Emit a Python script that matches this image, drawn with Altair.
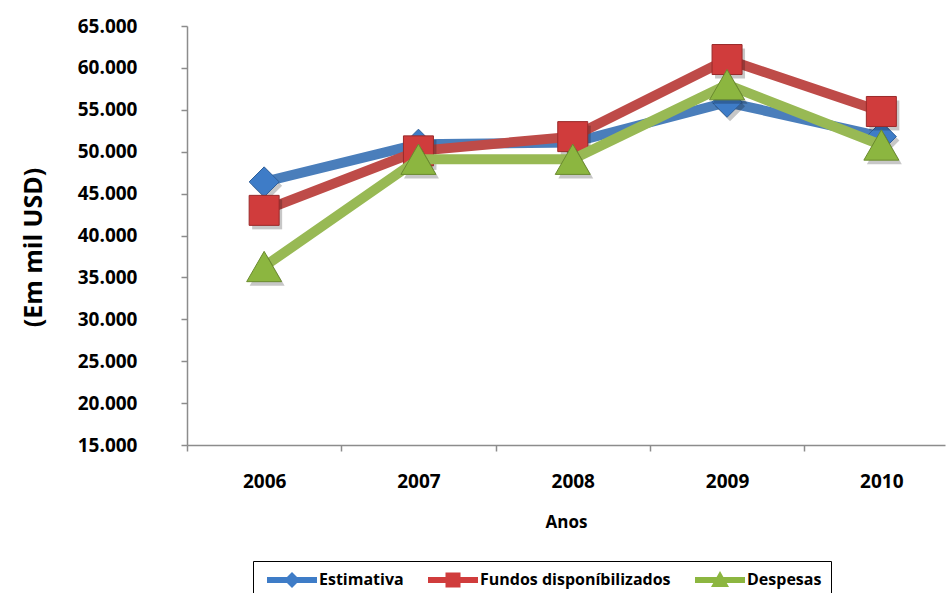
import altair as alt
import pandas as pd

# Values in thousands of USD
years = [2006, 2007, 2008, 2009, 2010]
estimativa = [46400, 50900, 51100, 55900, 51800]
fundos = [43000, 50100, 51800, 61000, 54800]
despesas = [36300, 49100, 49100, 58000, 50800]

series_names = ["Estimativa", "Fundos disponíbilizados", "Despesas"]
series_values = [estimativa, fundos, despesas]
y_ticks = [15000, 20000, 25000, 30000, 35000, 40000, 45000, 50000, 55000, 60000, 65000]

line_colors = ["#4A7EBB", "#BE4B48", "#98B954"]
marker_fill = ["#3E7CC7", "#D03C3C", "#8CB640"]
marker_stroke = ["#2F5F99", "#9A2A2A", "#6A8A2E"]
marker_shapes = ["diamond", "square", "triangle-up"]
marker_sizes = [900, 900, 1225]

# legend glyphs: a short line segment with the series marker on top
legend_paths = [
    "M-2.5,-0.3L2.5,-0.3L2.5,0.3L-2.5,0.3Z M0,-0.8L0.8,0L0,0.8L-0.8,0Z",
    "M-2.5,-0.3L2.5,-0.3L2.5,0.3L-2.5,0.3Z M-0.75,-0.75L0.75,-0.75L0.75,0.75L-0.75,0.75Z",
    "M-2.5,-0.3L2.5,-0.3L2.5,0.3L-2.5,0.3Z M0,-0.9L0.9,0.7L-0.9,0.7Z",
]

rows = []
for name, vals in zip(series_names, series_values):
    for yr, v in zip(years, vals):
        rows.append({"ano": yr, "valor": v, "serie": name})
df = pd.DataFrame(rows)

FONT = "Open Sans"
HALF_YEAR_PX = 77.15  # ticks sit between the years, labels stay on them

x_enc = alt.X(
    "ano:Q",
    scale=alt.Scale(domain=[2005.5, 2010.4125], nice=False, zero=False),
    axis=alt.Axis(
        values=years, format="d", title="Anos",
        tickOffset=-HALF_YEAR_PX, labelOffset=HALF_YEAR_PX,
        labelFlush=False, labelBaseline="alphabetic", labelPadding=36,
        titleY=82, titleBaseline="alphabetic", titleFontSize=17,
        labelFontSize=19,
    ),
)
y_enc = alt.Y(
    "valor:Q",
    scale=alt.Scale(domain=[15000, 65000], nice=False, zero=False),
    axis=alt.Axis(
        values=y_ticks,
        labelExpr="replace(format(datum.value, ',.0f'), ',', '.')",
        title="(Em mil USD)", labelPadding=44, labelFontSize=19,
        titleFontSize=25, titleX=-154, titleY=221, titleBaseline="middle",
    ),
)

layers = []
for i, name in enumerate(series_names):
    base = alt.Chart(df).transform_filter(alt.datum.serie == name)
    line = base.mark_line(
        color=line_colors[i], strokeWidth=10, strokeJoin="round"
    ).encode(x=x_enc, y=y_enc)
    shadow = base.mark_point(
        shape=marker_shapes[i], size=marker_sizes[i], filled=True,
        color="#000000", opacity=0.22, xOffset=3, yOffset=4,
    ).encode(x=x_enc, y=y_enc)
    marker = base.mark_point(
        shape=marker_shapes[i], size=marker_sizes[i], filled=True,
        color=marker_fill[i], stroke=marker_stroke[i], strokeWidth=1, opacity=1,
    ).encode(x=x_enc, y=y_enc)
    layers += [line, shadow, marker]

legend_def = alt.Legend(
    title=None, orient="none", legendX=66, legendY=535, direction="horizontal",
    strokeColor="#000000", fillColor="#ffffff", padding=9,
    symbolOffset=20, labelOffset=17, columnPadding=19, labelLimit=400,
    labelFont=FONT, labelFontSize=16, labelFontWeight="bold", labelColor="#000000",
    symbolSize=400, symbolStrokeWidth=0, symbolOpacity=1,
)

legend_layer = alt.Chart(df).mark_point(filled=True, opacity=0, size=400).encode(
    x=x_enc,
    y=y_enc,
    color=alt.Color("serie:N", scale=alt.Scale(domain=series_names, range=marker_fill), legend=legend_def),
    shape=alt.Shape("serie:N", scale=alt.Scale(domain=series_names, range=legend_paths), legend=legend_def),
)

chart = (
    alt.layer(*layers, legend_layer)
    .properties(
        width=758, height=419,
        padding={"left": 187, "top": 26, "right": 1, "bottom": 148},
        autosize=alt.AutoSizeParams(type="none"),
        background="#ffffff",
    )
    .configure_view(stroke=None)
    .configure_axis(
        grid=False, domainColor="#8C8C8C", domainWidth=1.5,
        tickColor="#8C8C8C", tickWidth=1.5, tickSize=6,
        labelFont=FONT, labelFontWeight="bold", labelColor="#000000",
        titleFont=FONT, titleFontWeight="bold", titleColor="#000000",
    )
)

chart.save("out.html", embed_options={"renderer": "svg", "actions": False})
